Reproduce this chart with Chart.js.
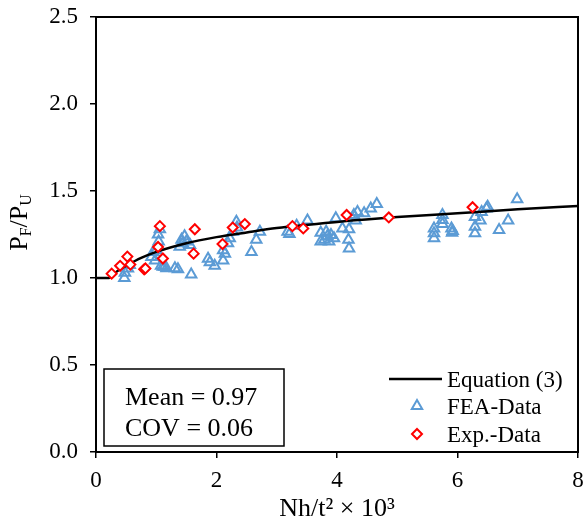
<!DOCTYPE html>
<html><head><meta charset="utf-8">
<script src="https://cdn.jsdelivr.net/npm/chart.js@4/dist/chart.umd.min.js"></script>
<style>html,body{margin:0;padding:0;background:#fff}#wrap{width:586px;height:528px;position:relative}</style>
</head><body><div id="wrap"><canvas id="c"></canvas></div>
<script>
// ---- data ----
const feaX = [0.47,0.48,0.53,0.56,
  0.92,0.95,0.98,1.00,1.03,1.04,1.06,1.08,1.11,1.14,1.17,1.31,1.36,1.58,1.39,1.42,1.44,1.47,1.50,1.56,
  1.86,1.89,1.97,2.11,2.11,2.14,2.19,2.22,2.27,2.33,2.34,2.58,2.66,2.72,
  3.18,3.21,3.33,3.51,3.73,3.73,3.79,3.82,3.84,3.87,3.90,3.95,3.98,4.09,4.19,4.20,4.20,4.28,4.31,4.34,4.45,4.56,4.66,
  5.61,5.61,5.61,5.75,5.75,5.75,5.90,5.91,5.92,
  6.29,6.29,6.29,6.38,6.40,6.48,6.50,6.69,6.84,6.99];
const feaY = [1.00,1.03,1.055,1.075,
  1.12,1.15,1.10,1.16,1.25,1.21,1.28,1.07,1.065,1.065,1.056,1.056,1.05,1.02,1.18,1.22,1.20,1.24,1.21,1.19,
  1.11,1.09,1.07,1.10,1.16,1.14,1.20,1.228,1.266,1.323,1.29,1.15,1.22,1.266,
  1.266,1.253,1.30,1.33,1.26,1.21,1.22,1.266,1.24,1.21,1.247,1.228,1.343,1.285,1.22,1.28,1.17,1.362,1.33,1.38,1.372,1.40,1.425,
  1.285,1.257,1.228,1.362,1.333,1.31,1.285,1.26,1.27,
  1.257,1.295,1.35,1.33,1.38,1.40,1.41,1.276,1.33,1.452];
const expX = [0.26,0.40,0.52,0.57,0.80,0.82,1.03,1.06,1.11,1.62,1.64,2.10,2.27,2.47,3.26,3.44,4.16,4.86,6.25];
const expY = [1.025,1.07,1.123,1.077,1.05,1.055,1.178,1.298,1.112,1.14,1.28,1.195,1.29,1.31,1.298,1.285,1.362,1.348,1.407];
const eqX = [0,0.22,0.3,0.4,0.5,0.75,1.0,1.5,2.0,2.5,3.0,4.0,5.0,6.0,7.0,8.0];
const eqY = [1.0,1.0,1.025,1.05,1.07,1.115,1.15,1.20,1.235,1.262,1.287,1.322,1.35,1.372,1.395,1.414];
const xTitle = 'Nh/t\u00B2 \u00D7 10\u00B3';
const yTitleParts = ['P','F','/P','U'];
const seriesNames = ['Equation (3)','FEA-Data','Exp.-Data'];
const statLines = ['Mean = 0.97','COV = 0.06'];

const FONT = "'Liberation Serif','Times New Roman',serif";
const BLUE = '#5B9BD5', RED = '#FF0000';
const pts = (xs, ys) => xs.map((x, i) => ({x, y: ys[i]}));

function drawTri(ctx, x, y, r) {
  ctx.beginPath();
  ctx.moveTo(x, y - r);
  ctx.lineTo(x + r * Math.cos(Math.PI/6), y + r/2);
  ctx.lineTo(x - r * Math.cos(Math.PI/6), y + r/2);
  ctx.closePath(); ctx.stroke();
}
function drawDia(ctx, x, y, r) {
  ctx.beginPath();
  ctx.moveTo(x - r, y); ctx.lineTo(x, y - r); ctx.lineTo(x + r, y); ctx.lineTo(x, y + r);
  ctx.closePath(); ctx.fillStyle = '#fff'; ctx.fill(); ctx.stroke();
}

const decor = {
  id: 'decor',
  afterDraw(chart) {
    const {ctx, chartArea: a} = chart;
    ctx.save();
    // frame
    ctx.strokeStyle = '#000'; ctx.lineWidth = 2;
    ctx.strokeRect(a.left, a.top, a.right - a.left, a.bottom - a.top);
    // y title with subscripts
    ctx.save();
    ctx.translate(27, (a.top + a.bottom) / 2 - 12);
    ctx.rotate(-Math.PI / 2);
    ctx.fillStyle = '#000'; ctx.textBaseline = 'alphabetic';
    const big = '26px ' + FONT, small = '16px ' + FONT;
    const sizes = [big, small, big, small];
    let w = 0;
    yTitleParts.forEach((t, i) => { ctx.font = sizes[i]; w += ctx.measureText(t).width; });
    let px = -w / 2;
    yTitleParts.forEach((t, i) => {
      ctx.font = sizes[i];
      ctx.fillText(t, px, i % 2 ? 4 : 0);
      px += ctx.measureText(t).width;
    });
    ctx.restore();
    // stats box
    const bx = a.left + 8, by = a.bottom - 83;
    ctx.lineWidth = 1.5; ctx.strokeStyle = '#000';
    ctx.strokeRect(bx, by, 180, 77);
    ctx.fillStyle = '#000'; ctx.font = '26px ' + FONT; ctx.textAlign = 'left';
    ctx.fillText(statLines[0], bx + 21, a.bottom - 47);
    ctx.fillText(statLines[1], bx + 21, a.bottom - 16);
    // legend
    const lx = a.right - 131;
    ctx.font = '23px ' + FONT;
    ctx.strokeStyle = '#000'; ctx.lineWidth = 2.5;
    ctx.beginPath(); ctx.moveTo(a.right - 189, a.bottom - 73); ctx.lineTo(a.right - 136, a.bottom - 73); ctx.stroke();
    ctx.fillText(seriesNames[0], lx, a.bottom - 65);
    ctx.strokeStyle = BLUE; ctx.lineWidth = 2;
    drawTri(ctx, a.right - 161, a.bottom - 46, 6);
    ctx.fillStyle = '#000';
    ctx.fillText(seriesNames[1], lx, a.bottom - 38);
    ctx.strokeStyle = RED; ctx.lineWidth = 2;
    drawDia(ctx, a.right - 161, a.bottom - 18, 5);
    ctx.fillStyle = '#000';
    ctx.fillText(seriesNames[2], lx, a.bottom - 10);
    ctx.restore();
  }
};

new Chart(document.getElementById('c'), {
  type: 'scatter',
  data: {
    datasets: [
      {label: seriesNames[0], type: 'line', data: pts(eqX, eqY), borderColor: '#000', borderWidth: 2.5,
       pointRadius: 0, fill: false, cubicInterpolationMode: 'monotone', order: 2},
      {label: seriesNames[1], data: pts(feaX, feaY), pointStyle: 'triangle', pointRadius: 6,
       borderColor: BLUE, backgroundColor: 'rgba(0,0,0,0)', borderWidth: 2, order: 3},
      {label: seriesNames[2], data: pts(expX, expY), pointStyle: 'rectRot', pointRadius: 5,
       borderColor: RED, backgroundColor: '#fff', borderWidth: 2, order: 1}
    ]
  },
  options: {
    responsive: true, maintainAspectRatio: false, animation: false,
    layout: {padding: {top: 17, right: 6, left: 0, bottom: 0}},
    plugins: {legend: {display: false}, tooltip: {enabled: false}},
    scales: {
      x: {
        type: 'linear', min: 0, max: 8,
        ticks: {stepSize: 2, color: '#000', font: {family: FONT, size: 23}, padding: 9},
        grid: {drawOnChartArea: false, drawTicks: true, tickLength: 6, color: '#000', lineWidth: 1.5},
        border: {display: false},
        title: {display: true, text: xTitle, color: '#000', font: {family: FONT, size: 26}, padding: {top: 0, bottom: 3}},
        afterFit: s => { s.height = 76; s.paddingLeft = 0; s.paddingRight = 0; }
      },
      y: {
        type: 'linear', min: 0, max: 2.5,
        ticks: {stepSize: 0.5, color: '#000', font: {family: FONT, size: 23}, padding: 12,
                callback: v => Number(v).toFixed(1)},
        grid: {drawOnChartArea: false, drawTicks: true, tickLength: 6, color: '#000', lineWidth: 1.5},
        border: {display: false},
        afterFit: s => { s.width = 96; s.paddingTop = 0; s.paddingBottom = 0; }
      }
    }
  },
  plugins: [decor]
});
</script></body></html>
